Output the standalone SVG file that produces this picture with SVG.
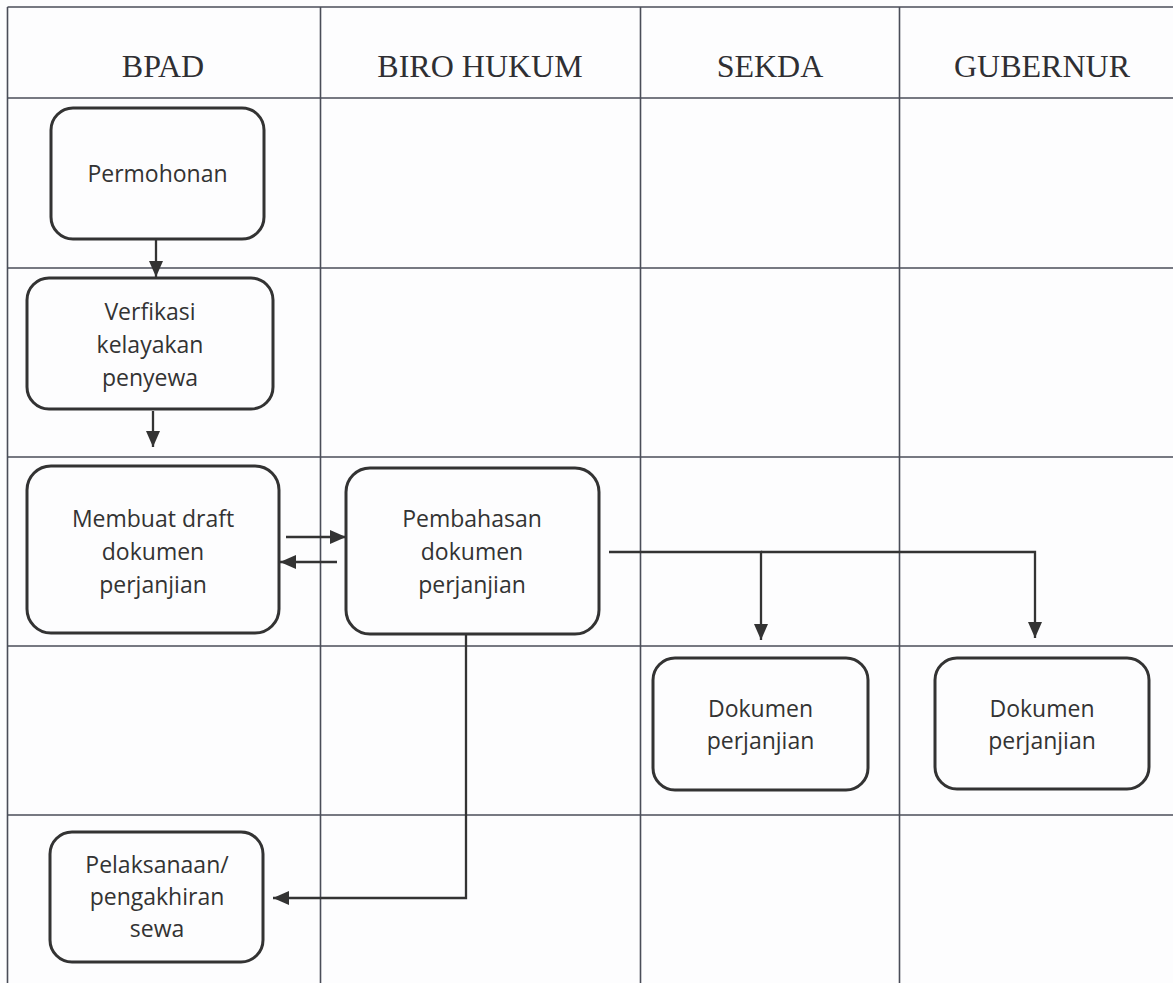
<svg xmlns="http://www.w3.org/2000/svg" width="1173" height="983" viewBox="0 0 1173 983">
<defs>
<style>
.grid{stroke:#4a4d58;stroke-width:1.6;fill:none}
.hdr{font-family:"Liberation Serif","Times New Roman",serif;font-size:32px;fill:#2f2f33;text-anchor:middle}
.box{fill:none;stroke:#333;stroke-width:3}
.lbl{font-family:"Open Sans","Noto Sans",sans-serif;font-size:23px;fill:#333;text-anchor:middle}
.con{fill:none;stroke:#333;stroke-width:2.3}
</style>
<marker id="ah" viewBox="0 0 16 14" refX="16" refY="7" markerWidth="16" markerHeight="14" markerUnits="userSpaceOnUse" orient="auto">
<path d="M0,0 L16,7 L0,14 Z" fill="#333"/>
</marker>
</defs>
<rect x="0" y="0" width="1173" height="983" fill="#fdfdfe"/>
<g id="grid">
<line class="grid" x1="7.5" y1="7" x2="1173" y2="7"/>
<line class="grid" x1="7.5" y1="98" x2="1173" y2="98"/>
<line class="grid" x1="7.5" y1="268" x2="1173" y2="268"/>
<line class="grid" x1="7.5" y1="457" x2="1173" y2="457"/>
<line class="grid" x1="7.5" y1="646" x2="1173" y2="646"/>
<line class="grid" x1="7.5" y1="815" x2="1173" y2="815"/>
<line class="grid" x1="7.5" y1="7" x2="7.5" y2="983"/>
<line class="grid" x1="320.5" y1="7" x2="320.5" y2="983"/>
<line class="grid" x1="640.5" y1="7" x2="640.5" y2="983"/>
<line class="grid" x1="899.5" y1="7" x2="899.5" y2="983"/>
</g>
<g id="headers">
<text class="hdr" x="163" y="77">BPAD</text>
<text class="hdr" x="480" y="77">BIRO HUKUM</text>
<text class="hdr" x="770" y="77">SEKDA</text>
<text class="hdr" x="1042" y="77">GUBERNUR</text>
</g>
<g id="connectors">
<line class="con" x1="156" y1="239" x2="156" y2="277" marker-end="url(#ah)"/>
<line class="con" x1="153" y1="411" x2="153" y2="447" marker-end="url(#ah)"/>
<line class="con" x1="286" y1="537" x2="346" y2="537" marker-end="url(#ah)"/>
<line class="con" x1="337" y1="562" x2="280" y2="562" marker-end="url(#ah)"/>
<polyline class="con" points="609,552 761,552 761,640" marker-end="url(#ah)"/>
<polyline class="con" points="761,552 1035,552 1035,638" marker-end="url(#ah)"/>
<polyline class="con" points="466,634 466,898 273,898" marker-end="url(#ah)"/>
</g>
<g id="n-permohonan">
<rect class="box" x="51" y="108" width="213" height="131" rx="22"/>
<text class="lbl" x="157.5" y="182">Permohonan</text>
</g>
<g id="n-verifikasi">
<rect class="box" x="27" y="278" width="246" height="131" rx="22"/>
<text class="lbl" x="150" y="320">Verfikasi</text>
<text class="lbl" x="150" y="353">kelayakan</text>
<text class="lbl" x="150" y="386">penyewa</text>
</g>
<g id="n-membuat">
<rect class="box" x="27" y="466" width="252" height="167" rx="24"/>
<text class="lbl" x="153" y="527">Membuat draft</text>
<text class="lbl" x="153" y="560">dokumen</text>
<text class="lbl" x="153" y="593">perjanjian</text>
</g>
<g id="n-pembahasan">
<rect class="box" x="346" y="468" width="253" height="166" rx="24"/>
<text class="lbl" x="472" y="527">Pembahasan</text>
<text class="lbl" x="472" y="560">dokumen</text>
<text class="lbl" x="472" y="593">perjanjian</text>
</g>
<g id="n-dokumen-sekda">
<rect class="box" x="653" y="658" width="215" height="132" rx="22"/>
<text class="lbl" x="760.5" y="717">Dokumen</text>
<text class="lbl" x="760.5" y="749">perjanjian</text>
</g>
<g id="n-dokumen-gubernur">
<rect class="box" x="935" y="658" width="214" height="131" rx="22"/>
<text class="lbl" x="1042" y="717">Dokumen</text>
<text class="lbl" x="1042" y="749">perjanjian</text>
</g>
<g id="n-pelaksanaan">
<rect class="box" x="50" y="832" width="213" height="130" rx="22"/>
<text class="lbl" x="157" y="873">Pelaksanaan/</text>
<text class="lbl" x="157" y="905">pengakhiran</text>
<text class="lbl" x="157" y="937">sewa</text>
</g>
</svg>
